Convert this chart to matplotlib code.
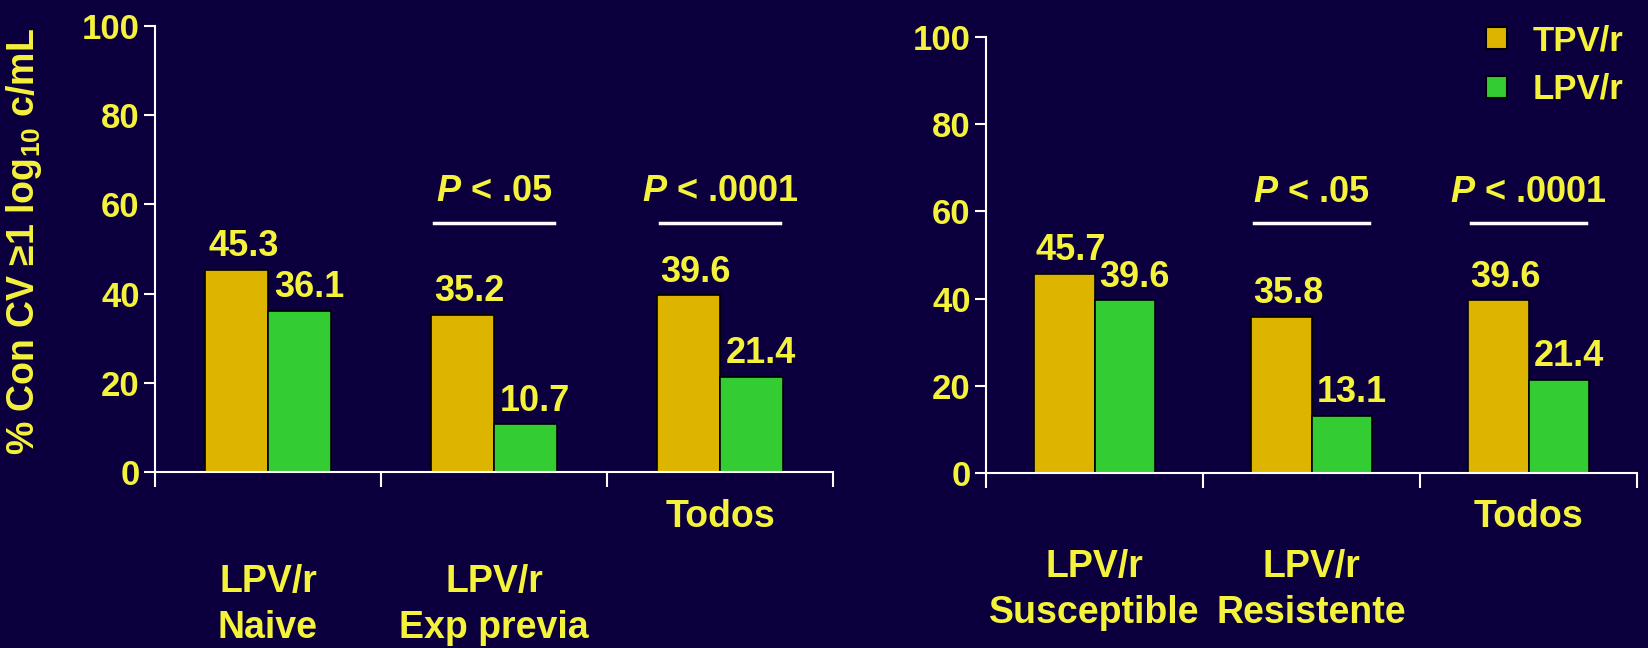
import numpy as np
import matplotlib
matplotlib.use('Agg')
import matplotlib.pyplot as plt
from matplotlib.patches import Patch

plt.rcParams['font.family'] = ['Liberation Sans', 'DejaVu Sans']
plt.rcParams['font.weight'] = 'bold'
plt.rcParams['mathtext.fontset'] = 'custom'
plt.rcParams['mathtext.rm'] = 'Liberation Sans:bold'
plt.rcParams['mathtext.bf'] = 'Liberation Sans:bold'
plt.rcParams['mathtext.it'] = 'Liberation Sans:italic:bold'

# data
left_cats = ['LPV/r\nNaive', 'LPV/r\nExp previa', 'Todos']
left_tpv = [45.3, 35.2, 39.6]
left_lpv = [36.1, 10.7, 21.4]
left_pvals = ['', r'$\mathit{P}$ < .05', r'$\mathit{P}$ < .0001']

right_cats = ['LPV/r\nSusceptible', 'LPV/r\nResistente', 'Todos']
right_tpv = [45.7, 35.8, 39.6]
right_lpv = [39.6, 13.1, 21.4]
right_pvals = ['', r'$\mathit{P}$ < .05', r'$\mathit{P}$ < .0001']

series_labels = ['TPV/r', 'LPV/r']
yticks = [0, 20, 40, 60, 80, 100]

bg = '#0B003D'
yellow = '#F5F23C'
gold = '#DDB500'
green = '#33CC33'
fs = 25      # tick labels, legend
fs_val = 26  # value and P labels
fs_cat = 27  # category labels, y label

fig = plt.figure(figsize=(16.48, 6.48), dpi=100, facecolor=bg)


def draw_panel(ax, cats, tpv, lpv, pvals, line_y, text_y, todos_y, lab_y):
    ax.set_facecolor(bg)
    x = np.arange(len(cats)) + 0.5
    w = 0.28
    ax.bar(x - w / 2, tpv, w, color=gold, edgecolor='black', linewidth=1.2, zorder=2)
    ax.bar(x + w / 2, lpv, w, color=green, edgecolor='black', linewidth=1.2, zorder=2)
    for i in range(len(cats)):
        ax.annotate(f'{tpv[i]:.1f}', (x[i] - w / 2, tpv[i]), xytext=(5, 4),
                    textcoords='offset points', ha='center', va='bottom',
                    color=yellow, fontsize=fs_val, fontweight='bold')
        ax.annotate(f'{lpv[i]:.1f}', (x[i] + w / 2, lpv[i]), xytext=(7, 4),
                    textcoords='offset points', ha='center', va='bottom',
                    color=yellow, fontsize=fs_val, fontweight='bold')
        if pvals[i]:
            ax.plot([x[i] - 0.265, x[i] + 0.265], [line_y, line_y], color='white', lw=2.5)
            ax.text(x[i], text_y, pvals[i], ha='center', va='center',
                    color=yellow, fontsize=fs_val, fontweight='bold')
        if cats[i] == 'Todos':
            ax.text(x[i], todos_y, cats[i], transform=ax.get_xaxis_transform(),
                    ha='center', va='center', color=yellow, fontsize=fs_cat, fontweight='bold')
        else:
            ax.text(x[i], lab_y, cats[i], transform=ax.get_xaxis_transform(),
                    ha='center', va='center', color=yellow, fontsize=fs_cat, fontweight='bold',
                    linespacing=1.35)
    ax.set_xlim(0, len(cats))
    ax.set_ylim(0, 100)
    ax.set_xticks(np.arange(len(cats) + 1))
    ax.set_xticklabels([])
    ax.set_yticks(yticks)
    ax.tick_params(axis='x', length=11, width=1.5, color='white', direction='out')
    ax.tick_params(axis='y', length=8, width=1.5, color='white', labelcolor=yellow,
                   labelsize=fs, pad=3)
    for t in ax.get_yticklabels():
        t.set_fontweight('bold')
    for s in ['top', 'right']:
        ax.spines[s].set_visible(False)
    for s in ['left', 'bottom']:
        ax.spines[s].set_color('white')
        ax.spines[s].set_linewidth(1.5)


ax1 = fig.add_axes([155 / 1648, 176 / 648, 678 / 1648, 446 / 648])
draw_panel(ax1, left_cats, left_tpv, left_lpv, left_pvals, 55.8, 62.8, -0.101, -0.299)
ax1.set_ylabel(r'% Con CV ≥1 log$_{\mathbf{10}}$ c/mL', color=yellow, fontsize=fs_cat,
               fontweight='bold')
ax1.yaxis.set_label_coords(-0.163, 0.518)

ax2 = fig.add_axes([986 / 1648, 175 / 648, 651 / 1648, 436 / 648])
draw_panel(ax2, right_cats, right_tpv, right_lpv, right_pvals, 57.3, 64.4, -0.101, -0.268)

handles = [Patch(facecolor=gold, edgecolor='black', linewidth=1.5),
           Patch(facecolor=green, edgecolor='black', linewidth=1.5)]
leg = fig.legend(handles, series_labels, loc='upper right', bbox_to_anchor=(1.0, 1.0),
                 frameon=False, fontsize=fs, handlelength=0.6, handleheight=0.6,
                 handletextpad=0.75, labelspacing=0.45, borderaxespad=0.3)
for t in leg.get_texts():
    t.set_color(yellow)
    t.set_fontweight('bold')

fig.savefig('out.png', dpi=100, facecolor=bg)
